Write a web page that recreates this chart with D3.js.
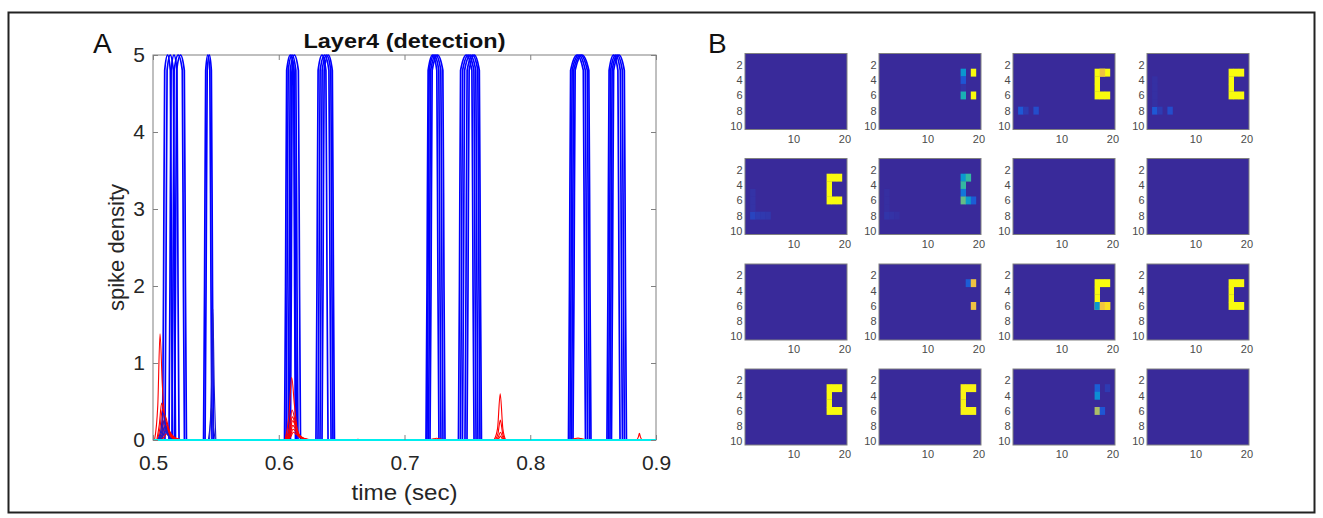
<!DOCTYPE html>
<html>
<head>
<meta charset="utf-8">
<script src="https://cdn.jsdelivr.net/npm/d3@7"></script>
<style>
  body { margin: 0; background: #fff; }
  text { font-family: "Liberation Sans", Arial, Helvetica, sans-serif; }
</style>
</head>
<body>
<svg id="fig" width="1323" height="518"></svg>
<script>
// ---- panel A data: spike density curves, [time (sec), density] ----
const xTicks = [0.5, 0.6, 0.7, 0.8, 0.9];
const yTicks = [0, 1, 2, 3, 4, 5];

// large (saturating) responses of the detection cells
const blueCurves = [
  [[0.5076,0],[0.5084,2],[0.5093,4.8],[0.5116,5],[0.5138,4.8],[0.5147,2],[0.5155,0]],
  [[0.5095,0],[0.5103,2],[0.5112,4.8],[0.5137,5],[0.5162,4.8],[0.5171,2],[0.5179,0]],
  [[0.5127,0],[0.5135,2],[0.5144,4.8],[0.5167,5],[0.5190,4.8],[0.5199,2],[0.5207,0]],
  [[0.5151,0],[0.5159,2],[0.5168,4.8],[0.5200,5],[0.5233,4.8],[0.5242,2],[0.5250,0]],
  [[0.5171,0],[0.5179,2],[0.5188,4.8],[0.5219,5],[0.5249,4.8],[0.5258,2],[0.5266,0]],
  [[0.5402,0],[0.5410,2],[0.5419,4.8],[0.5436,5],[0.5452,4.8],[0.5461,2],[0.5469,0]],
  [[0.5414,0],[0.5422,2],[0.5431,4.8],[0.5448,5],[0.5464,4.8],[0.5473,2],[0.5481,0]],
  [[0.6046,0],[0.6054,2],[0.6063,4.8],[0.6092,5],[0.6120,4.8],[0.6129,2],[0.6137,0]],
  [[0.6058,0],[0.6066,2],[0.6075,4.8],[0.6106,5],[0.6136,4.8],[0.6145,2],[0.6153,0]],
  [[0.6074,0],[0.6082,2],[0.6091,4.8],[0.6124,5],[0.6156,4.8],[0.6165,2],[0.6173,0]],
  [[0.6085,0],[0.6093,2],[0.6102,4.7],[0.6113,4.93],[0.6124,4.7],[0.6133,2],[0.6141,0]],
  [[0.6093,0],[0.6100,2],[0.6106,4.6],[0.6113,4.86],[0.6120,4.6],[0.6126,2],[0.6133,0]],
  [[0.6296,0],[0.6304,2],[0.6313,4.8],[0.6344,5],[0.6375,4.8],[0.6384,2],[0.6392,0]],
  [[0.6312,0],[0.6320,2],[0.6329,4.8],[0.6364,5],[0.6399,4.8],[0.6408,2],[0.6416,0]],
  [[0.6328,0],[0.6336,2],[0.6345,4.8],[0.6380,5],[0.6414,4.8],[0.6423,2],[0.6431,0]],
  [[0.6344,0],[0.6352,2],[0.6361,4.8],[0.6394,5],[0.6426,4.8],[0.6435,2],[0.6443,0]],
  [[0.7171,0],[0.7179,2],[0.7188,4.8],[0.7223,5],[0.7257,4.8],[0.7266,2],[0.7274,0]],
  [[0.7179,0],[0.7187,2],[0.7196,4.8],[0.7235,5],[0.7273,4.8],[0.7282,2],[0.7290,0]],
  [[0.7191,0],[0.7199,2],[0.7208,4.8],[0.7249,5],[0.7289,4.8],[0.7298,2],[0.7306,0]],
  [[0.7203,0],[0.7211,2],[0.7220,4.8],[0.7263,5],[0.7305,4.8],[0.7314,2],[0.7322,0]],
  [[0.7429,0],[0.7437,2],[0.7446,4.8],[0.7491,5],[0.7536,4.8],[0.7545,2],[0.7553,0]],
  [[0.7445,0],[0.7453,2],[0.7462,4.8],[0.7507,5],[0.7552,4.8],[0.7561,2],[0.7569,0]],
  [[0.7461,0],[0.7469,2],[0.7478,4.8],[0.7523,5],[0.7567,4.8],[0.7576,2],[0.7584,0]],
  [[0.7481,0],[0.7489,2],[0.7498,4.8],[0.7541,5],[0.7583,4.8],[0.7592,2],[0.7600,0]],
  [[0.7497,0],[0.7505,2],[0.7514,4.8],[0.7555,5],[0.7595,4.8],[0.7604,2],[0.7612,0]],
  [[0.8304,0],[0.8312,2],[0.8321,4.8],[0.8372,5],[0.8422,4.8],[0.8431,2],[0.8439,0]],
  [[0.8316,0],[0.8324,2],[0.8333,4.8],[0.8386,5],[0.8438,4.8],[0.8447,2],[0.8455,0]],
  [[0.8328,0],[0.8336,2],[0.8345,4.8],[0.8400,5],[0.8454,4.8],[0.8463,2],[0.8471,0]],
  [[0.8340,0],[0.8348,2],[0.8357,4.8],[0.8412,5],[0.8466,4.8],[0.8475,2],[0.8483,0]],
  [[0.8610,0],[0.8618,2],[0.8627,4.8],[0.8662,5],[0.8697,4.8],[0.8706,2],[0.8714,0]],
  [[0.8622,0],[0.8630,2],[0.8639,4.8],[0.8678,5],[0.8716,4.8],[0.8725,2],[0.8733,0]],
  [[0.8634,0],[0.8642,2],[0.8651,4.8],[0.8692,5],[0.8732,4.8],[0.8741,2],[0.8749,0]],
  [[0.8646,0],[0.8654,2],[0.8663,4.8],[0.8706,5],[0.8748,4.8],[0.8757,2],[0.8765,0]]
];

// small sub-threshold responses of the detection cells
const blueSmall = [
  [[0.5040,0],[0.5062,0.12],[0.5082,0.35],[0.5100,0.20],[0.5125,0.05],[0.5150,0]],
  [[0.5045,0],[0.5068,0.10],[0.5088,0.25],[0.5105,0.15],[0.5130,0.04],[0.5155,0]],
  [[0.5050,0],[0.5073,0.07],[0.5093,0.17],[0.5110,0.10],[0.5135,0.03],[0.5160,0]],
  [[0.5055,0],[0.5078,0.05],[0.5098,0.12],[0.5115,0.07],[0.5140,0.02],[0.5165,0]],
  [[0.5450,0],[0.5465,0.70],[0.5476,1.70],[0.5487,0.70],[0.5500,0]],
  [[0.5440,0],[0.5455,0.20],[0.5466,0.43],[0.5478,0.20],[0.5495,0]]
];

// inhibitory cells
const redCurves = [
  [[0.5012,0],[0.5038,0.45],[0.5056,1.38],[0.5074,0.72],[0.5098,0.22],[0.5135,0.05],[0.5175,0]],
  [[0.5030,0],[0.5050,0.20],[0.5069,0.48],[0.5090,0.30],[0.5115,0.10],[0.5160,0.02],[0.5200,0]],
  [[0.5035,0],[0.5055,0.15],[0.5075,0.40],[0.5098,0.28],[0.5125,0.10],[0.5170,0.02],[0.5210,0]],
  [[0.5040,0],[0.5062,0.12],[0.5085,0.33],[0.5105,0.28],[0.5130,0.12],[0.5175,0.03],[0.5220,0]],
  [[0.5045,0],[0.5068,0.10],[0.5090,0.26],[0.5112,0.20],[0.5140,0.08],[0.5185,0.02],[0.5230,0]],
  [[0.5050,0],[0.5072,0.07],[0.5095,0.19],[0.5118,0.14],[0.5145,0.06],[0.5190,0.01],[0.5240,0]],
  [[0.5055,0],[0.5078,0.05],[0.5100,0.13],[0.5125,0.10],[0.5155,0.04],[0.5200,0.01],[0.5250,0]],
  [[0.5060,0],[0.5085,0.03],[0.5105,0.08],[0.5130,0.06],[0.5160,0.03],[0.5210,0.01],[0.5260,0]],
  [[0.6050,0],[0.6080,0.30],[0.6103,0.81],[0.6125,0.45],[0.6150,0.12],[0.6190,0.02],[0.6240,0]],
  [[0.6055,0],[0.6082,0.15],[0.6106,0.39],[0.6130,0.25],[0.6155,0.08],[0.6200,0.02],[0.6250,0]],
  [[0.6058,0],[0.6085,0.11],[0.6108,0.30],[0.6132,0.20],[0.6158,0.07],[0.6205,0.02],[0.6255,0]],
  [[0.6060,0],[0.6088,0.09],[0.6110,0.25],[0.6135,0.17],[0.6160,0.06],[0.6210,0.01],[0.6260,0]],
  [[0.6062,0],[0.6090,0.07],[0.6112,0.19],[0.6137,0.13],[0.6163,0.05],[0.6215,0.01],[0.6265,0]],
  [[0.6065,0],[0.6092,0.05],[0.6114,0.14],[0.6140,0.10],[0.6166,0.04],[0.6220,0.01],[0.6270,0]],
  [[0.6068,0],[0.6095,0.04],[0.6116,0.10],[0.6142,0.07],[0.6170,0.03],[0.6225,0.01],[0.6275,0]],
  [[0.6610,0],[0.6630,0.01],[0.6650,0]],
  [[0.7195,0],[0.7230,0.015],[0.7255,0.022],[0.7280,0.015],[0.7315,0]],
  [[0.7712,0],[0.7740,0.15],[0.7761,0.60],[0.7782,0.15],[0.7805,0]],
  [[0.7720,0],[0.7743,0.08],[0.7762,0.26],[0.7781,0.08],[0.7800,0]],
  [[0.7728,0],[0.7746,0.04],[0.7763,0.10],[0.7780,0.04],[0.7795,0]],
  [[0.7735,0],[0.7750,0.02],[0.7763,0.05],[0.7776,0.02],[0.7790,0]],
  [[0.8320,0],[0.8355,0.018],[0.8380,0.025],[0.8405,0.018],[0.8445,0]],
  [[0.8848,0],[0.8860,0.04],[0.8868,0.087],[0.8876,0.04],[0.8888,0]]
];

// silent cells stay on the baseline
const cyanCurve = [[0.5,0],[0.9,0]];

// ---- panel B data: 10x20 response maps, [row, col, value] ----
const cShape = [[3,17],[4,17],[5,17],[6,17],[3,18],[3,19],[6,18],[6,19]];
const cLevel = [0, 0, 1, 1,  1, 0, 0, 0,  0, 0, 1, 1,  1, 0.98, 0, 0];
const mapCells = [
  [],
  [[3,17,0.32],[4,17,0.10],[5,17,0.02],[6,17,0.44],[3,19,1],[6,19,1]],
  [[3,18,0.84],[8,2,0.11],[8,3,0.04],[8,5,0.08]],
  [[8,2,0.11],[8,3,0.04],[8,5,0.08],[4,2,0.015],[5,2,0.015],[6,2,0.015],[7,2,0.015]],
  [[8,2,0.06],[8,3,0.04],[8,4,0.035],[8,5,0.03],[5,2,0.02],[6,2,0.02],[7,2,0.02]],
  [[3,17,0.32],[3,18,0.50],[4,17,0.50],[5,17,0.20],[6,17,0.57],[6,18,0.33],[6,19,0.12],
   [8,2,0.025],[8,3,0.02],[8,4,0.015],[5,2,0.012],[6,2,0.012],[7,2,0.012]],
  [],
  [],
  [],
  [[3,18,0.12],[3,19,0.83],[6,19,0.83]],
  [[6,17,0.32],[6,18,0.84],[6,19,0.93]],
  [],
  [],
  [],
  [[3,17,0.13],[4,17,0.28],[6,17,0.68],[6,18,0.10],[3,19,0.04]],
  []
];
const hmXTicks = [10, 20];
const hmYTicks = [2, 4, 6, 8, 10];

// parula colour table
const parulaPos = [0, 0.095, 0.206, 0.302, 0.397, 0.508, 0.603, 0.698, 0.794, 0.905, 1];
const parulaCol = ['#392a9a', '#2053d4', '#1079da', '#0c93d2', '#07a9c2', '#38b99e',
                   '#7cbf7b', '#b7bd64', '#e9b94e', '#fad32a', '#f9fb0e'];

// ---- drawing ----
const svg = d3.select('#fig');

svg.append('rect')
  .attr('x', 8.5).attr('y', 12.5)
  .attr('width', 1306).attr('height', 500)
  .attr('fill', 'none').attr('stroke', '#222').attr('stroke-width', 2);

// panel A
const pa = { left: 153, top: 55, right: 656, bottom: 440 };
const x = d3.scaleLinear().domain([0.5, 0.9]).range([pa.left, pa.right]);
const y = d3.scaleLinear().domain([0, 5]).range([pa.bottom, pa.top]);
const line = d3.line().x(d => x(d[0])).y(d => y(d[1])).curve(d3.curveMonotoneX);

svg.append('clipPath').attr('id', 'clipA').append('rect')
  .attr('x', pa.left).attr('y', pa.top - 1)
  .attr('width', pa.right - pa.left).attr('height', pa.bottom - pa.top + 3);

svg.append('rect')
  .attr('x', pa.left).attr('y', pa.top)
  .attr('width', pa.right - pa.left).attr('height', pa.bottom - pa.top)
  .attr('fill', 'none').attr('stroke', '#808080').attr('stroke-width', 1);

const lines = svg.append('g').attr('clip-path', 'url(#clipA)');

lines.selectAll('path.blue')
  .data(blueCurves)
  .enter().append('path')
  .attr('class', 'blue')
  .attr('d', line)
  .attr('fill', 'none').attr('stroke', '#0000ff').attr('stroke-width', 1.7);

lines.selectAll('path.red')
  .data(redCurves)
  .enter().append('path')
  .attr('class', 'red')
  .attr('d', line)
  .attr('fill', 'none').attr('stroke', '#ff0000').attr('stroke-width', 1.1);

lines.selectAll('path.bsmall')
  .data(blueSmall)
  .enter().append('path')
  .attr('class', 'bsmall')
  .attr('d', line)
  .attr('fill', 'none').attr('stroke', '#1a1ad0').attr('stroke-width', 1.1);

lines.append('path')
  .attr('d', line(cyanCurve))
  .attr('fill', 'none').attr('stroke', '#00eeee').attr('stroke-width', 2);

function styleAxis(g, size) {
  g.select('.domain').remove();
  g.selectAll('.tick line').attr('stroke', '#808080');
  g.selectAll('.tick text')
    .attr('fill', '#262626')
    .style('font-size', size + 'px')
    .style('font-family', '"Liberation Sans", Arial, sans-serif');
}

svg.append('g')
  .attr('transform', `translate(0,${pa.bottom})`)
  .call(d3.axisBottom(x).tickValues(xTicks).tickSize(-5).tickPadding(15).tickFormat(d3.format('.1f')))
  .call(g => styleAxis(g, 21));
svg.append('g')
  .attr('transform', `translate(0,${pa.top})`)
  .call(d3.axisTop(x).tickValues(xTicks).tickSize(-5).tickFormat(''))
  .call(g => styleAxis(g, 21));
svg.append('g')
  .attr('transform', `translate(${pa.left},0)`)
  .call(d3.axisLeft(y).tickValues(yTicks).tickSize(-5).tickPadding(8).tickFormat(d3.format('d')))
  .call(g => styleAxis(g, 21));
svg.append('g')
  .attr('transform', `translate(${pa.right},0)`)
  .call(d3.axisRight(y).tickValues(yTicks).tickSize(-5).tickFormat(''))
  .call(g => styleAxis(g, 21));

svg.append('text')
  .attr('x', (pa.left + pa.right) / 2).attr('y', 48)
  .attr('text-anchor', 'middle')
  .attr('font-weight', 'bold').attr('font-size', 21)
  .attr('textLength', 202).attr('lengthAdjust', 'spacingAndGlyphs')
  .attr('fill', '#111')
  .text('Layer4 (detection)');

svg.append('text')
  .attr('x', (pa.left + pa.right) / 2).attr('y', 500)
  .attr('text-anchor', 'middle')
  .attr('font-size', 22).attr('fill', '#262626')
  .attr('textLength', 106).attr('lengthAdjust', 'spacingAndGlyphs')
  .text('time (sec)');

svg.append('text')
  .attr('transform', `translate(124,${(pa.top + pa.bottom) / 2}) rotate(-90)`)
  .attr('text-anchor', 'middle')
  .attr('font-size', 22).attr('fill', '#262626')
  .text('spike density');

svg.append('text').attr('x', 93).attr('y', 53)
  .attr('font-size', 28).attr('fill', '#111').text('A');
svg.append('text').attr('x', 708).attr('y', 53)
  .attr('font-size', 28).attr('fill', '#111').text('B');

// panel B
const hmLeft = [745, 879, 1013, 1147];
const hmTop = [53.5, 158.5, 264, 369];
const hmW = 102, hmH = 76;
const hx = d3.scaleLinear().domain([0.5, 20.5]).range([0, hmW]);
const hy = d3.scaleLinear().domain([0.5, 10.5]).range([0, hmH]);
const color = d3.scaleLinear().domain(parulaPos).range(parulaCol).clamp(true);

mapCells.forEach((cells, i) => {
  const g = svg.append('g')
    .attr('transform', `translate(${hmLeft[i % 4]},${hmTop[Math.floor(i / 4)]})`);

  let all = [];
  if (cLevel[i] > 0) all = cShape.map(([r, c]) => [r, c, cLevel[i]]);
  all = all.concat(cells);

  g.append('rect')
    .attr('width', hmW).attr('height', hmH)
    .attr('fill', color(0));

  g.selectAll('rect.cell')
    .data(all)
    .enter().append('rect')
    .attr('class', 'cell')
    .attr('x', d => hx(d[1] - 0.5))
    .attr('y', d => hy(d[0] - 0.5))
    .attr('width', hx(1.5) - hx(0.5) + 0.3)
    .attr('height', hy(1.5) - hy(0.5) + 0.3)
    .attr('fill', d => color(d[2]));

  g.append('rect')
    .attr('width', hmW).attr('height', hmH)
    .attr('fill', 'none').attr('stroke', '#808080').attr('stroke-width', 1);

  g.append('g')
    .call(d3.axisLeft(hy).tickValues(hmYTicks).tickSize(0).tickPadding(2.5))
    .call(a => {
      a.select('.domain').remove();
      a.selectAll('text').attr('fill', '#4a4a4a').style('font-size', '11px');
    });
  g.append('g')
    .attr('transform', `translate(0,${hmH})`)
    .call(d3.axisBottom(hx).tickValues(hmXTicks).tickSize(0).tickPadding(5.5))
    .call(a => {
      a.select('.domain').remove();
      a.selectAll('text').attr('fill', '#4a4a4a').style('font-size', '11px');
    });
});
</script>
</body>
</html>
